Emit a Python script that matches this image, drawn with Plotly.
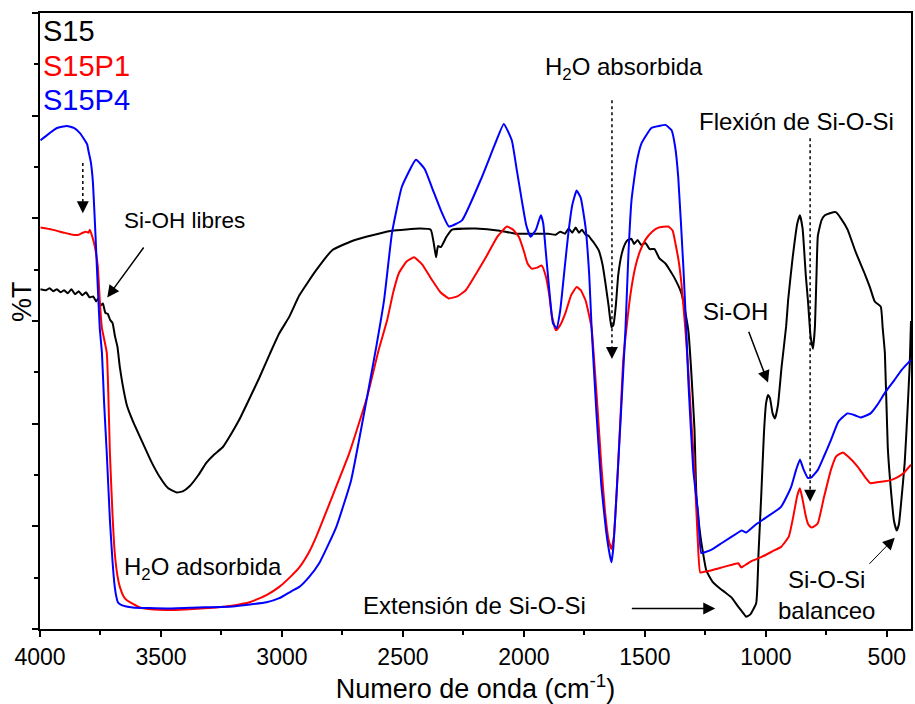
import plotly.graph_objects as go

# ---------------- data ----------------
wn_s15 = [3998, 3975, 3960, 3945, 3930, 3915, 3900, 3885, 3870, 3855, 3840, 3825, 3810, 3795,
          3780, 3768, 3760, 3750, 3740, 3730, 3720, 3710, 3700, 3690, 3680, 3670, 3660, 3641,
          3617, 3575, 3540, 3505, 3470, 3435, 3410, 3382, 3345, 3312, 3280, 3245, 3210, 3176,
          3135, 3093, 3050, 3011, 2970, 2928, 2860, 2792, 2720, 2652, 2545, 2430, 2385, 2372,
          2363, 2355, 2343, 2320, 2297, 2200, 2100, 2034, 1960, 1900, 1869, 1850, 1830, 1815,
          1800, 1786, 1772, 1760, 1745, 1733, 1720, 1710, 1691, 1675, 1663, 1650, 1638, 1630,
          1620, 1610, 1595, 1580, 1570, 1555, 1545, 1530, 1515, 1498, 1480, 1460, 1440, 1415,
          1380, 1349, 1330, 1320, 1308, 1295, 1287, 1270, 1246, 1220, 1197, 1170, 1143, 1115,
          1095, 1081, 1065, 1040, 1030, 1019, 1008, 999, 991, 983, 972, 962, 950, 935, 916,
          908, 890, 870, 859, 848, 835, 826, 815, 805, 797, 790, 785, 770, 756, 735, 711, 690,
          662, 630, 593, 570, 550, 525, 517, 508, 496, 484, 470, 459, 450, 440, 426, 415, 405, 400]
t_s15 = [33.1, 33.0, 33.2, 32.9, 33.1, 32.8, 33.0, 32.7, 33.1, 32.6, 32.9, 32.5, 32.8, 32.3,
         32.4, 31.9, 32.2, 31.5, 31.7, 30.8, 30.7, 30.1, 29.8, 28.5, 27.5, 25.5, 24.0, 21.8,
         20.3, 18.1, 16.3, 14.8, 13.7, 13.3, 13.4, 13.9, 15.0, 16.2, 17.0, 17.7, 19.0, 20.4,
         22.4, 24.5, 26.8, 28.8, 30.4, 32.5, 34.9, 36.9, 37.7, 38.2, 38.8, 39.0, 38.9, 37.5,
         36.2, 37.3, 37.2, 38.2, 38.9, 39.0, 38.8, 38.5, 38.5, 38.5, 38.4, 38.7, 38.5, 39.0,
         38.6, 39.1, 38.6, 38.9, 38.4, 38.3, 37.9, 37.6, 36.9, 35.5, 33.7, 31.5, 29.4, 29.6,
         31.5, 34.5, 36.6, 37.6, 37.9, 38.0, 37.5, 37.9, 37.4, 37.6, 37.0, 37.0, 36.1, 35.6,
         34.3, 32.7, 30.5, 29.0, 25.0, 19.5, 13.0, 9.0, 5.7, 4.6, 4.1, 3.6, 3.1, 2.2,
         1.6, 1.2, 1.4, 2.5, 7.5, 13.0, 19.0, 22.0, 22.8, 22.5, 21.0, 20.5, 21.8, 25.5, 29.5,
         32.0, 36.0, 39.5, 40.3, 39.0, 34.5, 32.0, 28.5, 27.3, 29.5, 35.0, 38.3, 39.8, 40.3, 40.5, 40.6, 40.0,
         38.9, 36.8, 34.7, 33.3, 31.9, 31.4, 29.3, 26.9, 17.7, 13.8, 10.5, 9.6, 10.2, 12.5, 16.2, 21.0, 25.9, 30.0]

wn_s15p1 = [3998, 3950, 3900, 3864, 3840, 3823, 3810, 3800, 3794, 3785, 3773, 3761, 3753, 3744,
            3724, 3711, 3700, 3691, 3680, 3670, 3655, 3641, 3588, 3530, 3477, 3400, 3270, 3200,
            3134, 3064, 3011, 2960, 2928, 2890, 2858, 2792, 2722, 2648, 2600, 2565, 2540, 2516,
            2485, 2454, 2420, 2380, 2345, 2310, 2275, 2240, 2200, 2157, 2110, 2070, 2045, 2021,
            2000, 1985, 1968, 1945, 1926, 1910, 1895, 1885, 1868, 1850, 1828, 1805, 1782, 1765,
            1745, 1730, 1720, 1700, 1680, 1665, 1650, 1638, 1628, 1615, 1600, 1590, 1576, 1560,
            1539, 1520, 1498, 1470, 1444, 1403, 1385, 1374, 1360, 1349, 1333, 1320, 1308, 1295,
            1282, 1271, 1250, 1226, 1197, 1150, 1114, 1102, 1094, 1060, 1019, 970, 937, 905, 887,
            870, 859, 848, 834, 825, 813, 800, 785, 760, 731, 710, 682, 660, 620, 590, 567, 540,
            508, 484, 455, 430, 400]
t_s15p1 = [39.1, 38.9, 38.6, 38.4, 38.4, 38.6, 38.7, 38.6, 38.9, 38.3, 37.2, 35.3, 32.0, 29.3,
           26.9, 17.1, 11.0, 7.4, 5.2, 4.1, 3.2, 2.8, 2.1, 1.9, 1.85, 1.9, 2.1, 2.3,
           2.6, 3.3, 4.1, 5.2, 6.0, 7.4, 9.0, 12.9, 17.1, 22.6, 27.2, 30.1, 32.8, 34.7,
           35.8, 36.2, 35.5, 34.0, 32.8, 32.2, 32.4, 33.0, 34.5, 36.2, 38.2, 39.2, 38.9, 38.2,
           36.8, 35.6, 35.1, 35.2, 35.4, 34.4, 32.5, 30.6, 29.1, 29.6, 30.8, 32.5, 33.3, 33.0,
           32.0, 30.5, 29.3, 23.0, 16.0, 11.5, 8.7, 7.8, 9.0, 14.0, 21.0, 26.0, 29.3, 32.5,
           35.3, 36.8, 37.9, 38.7, 39.1, 39.2, 38.8, 37.6, 35.8, 33.7, 29.3, 25.0, 20.3, 15.5,
           9.0, 5.5, 5.6, 5.7, 5.9, 6.2, 6.4, 6.0, 6.1, 6.6, 7.0, 7.6, 8.0, 9.0, 10.9,
           13.0, 13.7, 12.6, 10.9, 10.2, 9.9, 10.0, 10.3, 12.8, 15.5, 16.8, 17.2, 16.8, 15.8, 14.8, 14.2, 14.3,
           14.4, 14.5, 14.8, 15.2, 16.0]

wn_s15p4 = [3998, 3960, 3930, 3889, 3860, 3835, 3815, 3805, 3800, 3790, 3781, 3770, 3765, 3753,
            3744, 3735, 3724, 3711, 3700, 3691, 3685, 3678, 3660, 3617, 3477, 3350, 3204, 3064,
            3011, 2960, 2928, 2890, 2846, 2776, 2714, 2648, 2610, 2578, 2545, 2504, 2446, 2410,
            2380, 2340, 2310, 2256, 2174, 2120, 2083, 2050, 2030, 2009, 1990, 1972, 1950, 1930,
            1920, 1910, 1895, 1880, 1865, 1850, 1830, 1816, 1800, 1782, 1765, 1745, 1730, 1720,
            1700, 1680, 1660, 1645, 1638, 1630, 1615, 1600, 1580, 1568, 1555, 1535, 1514, 1473,
            1440, 1415, 1390, 1375, 1362, 1341, 1329, 1320, 1300, 1280, 1267, 1250, 1226, 1180,
            1114, 1100, 1081, 1040, 1003, 937, 896, 875, 859, 845, 826, 810, 785, 760, 731,
            700, 662, 630, 608, 567, 540, 508, 470, 440, 413, 400]
t_s15p4 = [47.6, 48.3, 48.8, 49.0, 48.8, 48.3, 47.6, 47.2, 46.6, 45.5, 43.4, 38.0, 35.3, 29.3,
           26.9, 22.0, 17.1, 10.6, 6.5, 4.1, 3.2, 2.6, 2.3, 2.1, 2.0, 2.1, 2.2, 2.6,
           3.0, 3.7, 4.1, 5.0, 6.4, 9.9, 14.5, 22.6, 27.5, 32.0, 38.6, 43.1, 45.7, 44.8,
           43.0, 40.6, 39.2, 39.8, 44.0, 47.2, 49.2, 47.6, 44.8, 41.8, 39.3, 38.2, 38.9, 40.3,
           39.5, 36.9, 33.0, 29.8, 29.3, 31.0, 35.5, 38.6, 41.3, 42.7, 42.0, 39.1, 34.5, 29.3,
           21.0, 14.0, 9.5, 7.2, 6.5, 8.0, 14.0, 20.5, 29.3, 36.5, 41.8, 45.3, 47.3, 48.8,
           49.0, 49.1, 48.6, 47.0, 44.0, 35.3, 29.3, 24.0, 15.5, 11.3, 7.4, 7.5, 7.7, 8.4,
           9.4, 9.6, 9.4, 10.2, 10.8, 11.9, 13.8, 15.5, 16.5, 15.6, 14.7, 14.8, 15.5, 16.8, 18.4,
           20.2, 21.0, 20.8, 20.6, 21.0, 21.8, 23.0, 24.2, 25.2, 25.9, 26.2]

series_names = ["S15", "S15P1", "S15P4"]
series_colors = ["#000000", "#ff0000", "#0000ff"]

FONT = "Liberation Sans, Arial, sans-serif"

fig = go.Figure()
for wn, t, name, col in [(wn_s15, t_s15, series_names[0], series_colors[0]),
                         (wn_s15p1, t_s15p1, series_names[1], series_colors[1]),
                         (wn_s15p4, t_s15p4, series_names[2], series_colors[2])]:
    fig.add_trace(go.Scatter(x=wn, y=t, mode="lines", name=name,
                             line=dict(color=col, width=2, shape="spline", smoothing=0.4)))

annotations = []
# series labels (legend)
for i, (name, col) in enumerate(zip(series_names, series_colors)):
    annotations.append(dict(x=0.0, y=0.97 - i * 0.056, xref="paper", yref="paper",
                            text=name, showarrow=False, xanchor="left", yanchor="middle",
                            xshift=1,
                            font=dict(size=29, color=col, family=FONT)))

# y axis title as rotated text
annotations.append(dict(x=-0.0206, y=0.531, xref="paper", yref="paper", text="%T",
                        showarrow=False, textangle=-90, xanchor="center", yanchor="middle",
                        font=dict(size=27, color="black", family=FONT)))

# text labels: (x, y, text, font size)
texts = [
    (3402, 39.8, "Si-OH libres", 22.5),
    (3328, 5.9, "H<sub>2</sub>O adsorbida", 24),
    (1588, 54.6, "H<sub>2</sub>O absorbida", 24),
    (875, 49.4, "Flexión de Si-O-Si", 24),
    (1127, 30.9, "Si-OH", 24),
    (2203, 2.3, "Extensión de Si-O-Si", 24),
    (751, 4.8, "Si-O-Si", 24),
    (751, 1.8, "balanceo", 24),
]
for x, y, s, fs in texts:
    annotations.append(dict(x=x, y=y, xref="x", yref="y", text=s, showarrow=False,
                            xanchor="center", yanchor="middle",
                            font=dict(size=fs, color="black", family=FONT)))

# solid arrows: (head x, head y, tail x, tail y, width)
arrows = [
    (3722, 32.3, 3567, 37.3, 1.5),
    (991, 24.0, 1073, 29.1, 1.5),
    (1209, 2.0, 1560, 2.0, 1.5),
    (467, 8.9, 578, 6.2, 1.0),
]
for hx, hy, tx, ty, w in arrows:
    annotations.append(dict(x=hx, y=hy, ax=tx, ay=ty, xref="x", yref="y", axref="x", ayref="y",
                            text="", showarrow=True, arrowhead=2, arrowsize=1.6 if w > 1 else 2.4,
                            arrowwidth=w, arrowcolor="black"))

# dotted arrows: (x, y top, y head)
dotted = [(3823, 45.4, 40.5), (1636, 51.5, 26.3), (817, 47.8, 12.4)]
shapes = []
for x, ytop, yhead in dotted:
    shapes.append(dict(type="line", xref="x", yref="y", x0=x, x1=x, y0=ytop, y1=yhead + 1.2,
                       line=dict(color="black", width=1.5, dash="dot")))
    annotations.append(dict(x=x, y=yhead, ax=x, ay=yhead + 1.3, xref="x", yref="y",
                            axref="x", ayref="y", text="", showarrow=True, arrowhead=2,
                            arrowsize=1.6, arrowwidth=1.5, arrowcolor="black"))

fig.update_layout(
    width=915, height=704,
    margin=dict(l=40, r=2, t=13, b=75),
    paper_bgcolor="white", plot_bgcolor="white",
    showlegend=False,
    annotations=annotations, shapes=shapes,
    font=dict(family=FONT, color="black"),
)
fig.update_xaxes(range=[4000, 400], tickmode="array",
                 tickvals=[4000, 3500, 3000, 2500, 2000, 1500, 1000, 500],
                 ticks="outside", ticklen=6, tickwidth=2, tickcolor="black",
                 tickfont=dict(size=23, family=FONT, color="black"),
                 minor=dict(tickvals=[3750, 3250, 2750, 2250, 1750, 1250, 750],
                            ticks="outside", ticklen=4, tickwidth=1.5, tickcolor="black"),
                 showline=True, linecolor="black", linewidth=2, mirror=True,
                 showgrid=False, zeroline=False,
                 title=dict(text="Numero de onda (cm<sup>-1</sup>)", standoff=6,
                            font=dict(size=27, family=FONT, color="black")))
fig.update_yaxes(range=[0, 60], tickmode="array", tickvals=[0, 10, 20, 30, 40, 50, 60],
                 showticklabels=False,
                 ticks="outside", ticklen=6, tickwidth=2, tickcolor="black",
                 minor=dict(tickvals=[5, 15, 25, 35, 45, 55], ticks="outside", ticklen=4,
                            tickwidth=1.5, tickcolor="black"),
                 showline=True, linecolor="black", linewidth=2, mirror=True,
                 showgrid=False, zeroline=False)

fig.write_html("out.html")
